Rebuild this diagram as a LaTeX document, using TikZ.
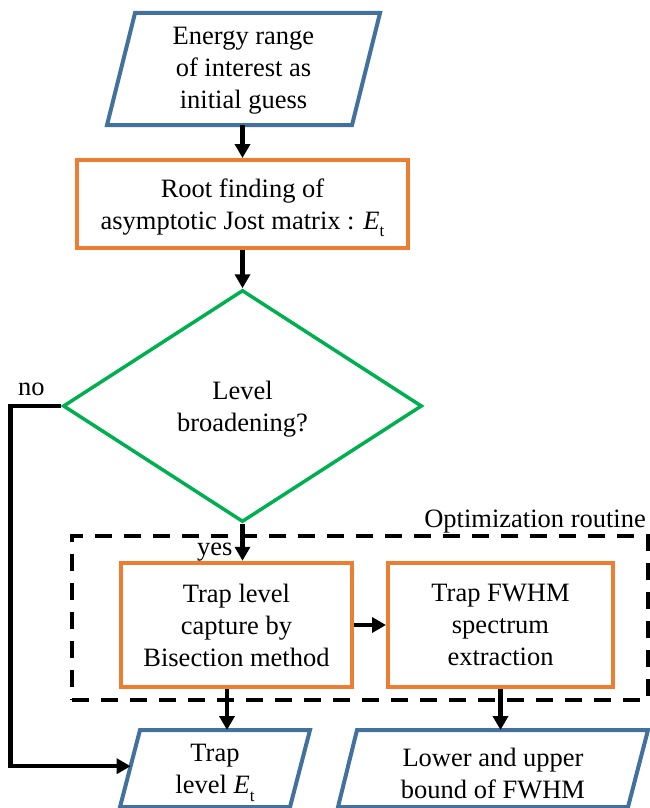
\documentclass[tikz,border=0pt]{standalone}
\usepackage{fontspec}
\setmainfont{Liberation Serif}
\usetikzlibrary{arrows.meta,shapes.geometric,calc}
\definecolor{ioblue}{HTML}{41719C}
\definecolor{procorange}{HTML}{ED7D31}
\definecolor{decgreen}{HTML}{00B050}
% trap energy symbol E_t
\newcommand{\trapE}{\textit{E}\raisebox{-0.28em}{\fontsize{17}{17}\selectfont t}}

\begin{document}
\begin{tikzpicture}[x=1pt,y=-1pt,
  every node/.style={font=\fontsize{26.5}{32}\selectfont, align=center},
  procbox/.style={draw=procorange, line width=4pt, inner sep=0pt},
  ioline/.style={draw=ioblue, line width=4pt, line join=miter},
  iotext/.style={inner sep=0pt},
  decbox/.style={diamond, draw=decgreen, line width=3.5pt, inner sep=0pt,
                 minimum width=359pt, minimum height=232pt},
  flow/.style={line width=4.5pt, -{Triangle[length=14pt,width=15pt]}},
  groupframe/.style={draw, line width=4pt, dash pattern=on 17pt off 12pt,
                     inner sep=0pt, minimum width=576pt, minimum height=164pt},
  tag/.style={inner sep=0pt, anchor=base west}
]
\useasboundingbox (0,0) rectangle (650,808);
\clip (0,0) rectangle (650,808);

% dashed frame of the optimization routine
\node[groupframe] (opt) at (360,618) {};
\node[inner sep=0pt, anchor=base east] (optlabel) at (646,527) {Optimization routine};

% input: energy range
\draw[ioline] (135,13) coordinate (inTL) -- (380,13) coordinate (inTR)
  -- (352,125) coordinate (inBR) -- (107,125) coordinate (inBL) -- cycle;
\node[iotext] (inp) at (243.5,71) {Energy range\\of interest as\\initial guess};
\coordinate (inS) at (242.5,125);

% root finding
\node[procbox, minimum width=331pt, minimum height=88pt] (root) at (242.5,204)
  {\rule{0pt}{26pt}Root finding of\\asymptotic Jost matrix : \trapE};

% decision
\node[decbox] (dec) at (242.5,406) {\rule{0pt}{24pt}Level\\broadening?};

% optimization steps
\node[procbox, minimum width=231pt, minimum height=124.5pt] (bisect) at (236.5,625)
  {Trap level\\capture by\\Bisection method};
\node[procbox, minimum width=225pt, minimum height=124.5pt] (fwhm) at (500.5,625)
  {Trap FWHM\\spectrum\\extraction};

% outputs
\draw[ioline] (140,730) coordinate (oaTL) -- (310,730) coordinate (oaTR)
  -- (290,807) coordinate (oaBR) -- (120,807) coordinate (oaBL) -- cycle;
\node[iotext] (outa) at (215,773) {Trap\\level \trapE};
\coordinate (oaN) at (227,730);
\coordinate (oaW) at ($(oaTL)!0.47!(oaBL)$);

\draw[ioline] (357,730) coordinate (obTL) -- (648,730) coordinate (obTR)
  -- (628,807) coordinate (obBR) -- (338,807) coordinate (obBL) -- cycle;
\node[iotext] (outb) at (493,773) {Lower and upper\\bound of FWHM};
\coordinate (obN) at (500.5,730);

% connectors
\draw[flow] (inS) -- (root.north);
\draw[flow] (root.south) -- (dec.north);
\draw[flow] (dec.south) -- (dec.south |- bisect.north);
\draw[flow] (bisect.east) -- (fwhm.west);
\draw[flow] (oaN |- bisect.south) -- (oaN);
\draw[flow] (fwhm.south) -- (obN);
\draw[flow, line join=miter] (dec.west) -- ++(-51,0) |- (oaW);

% branch labels
\node[tag] (nolabel) at (18,395) {no};
\node[tag] (yeslabel) at (197,555) {yes};
\end{tikzpicture}
\end{document}
